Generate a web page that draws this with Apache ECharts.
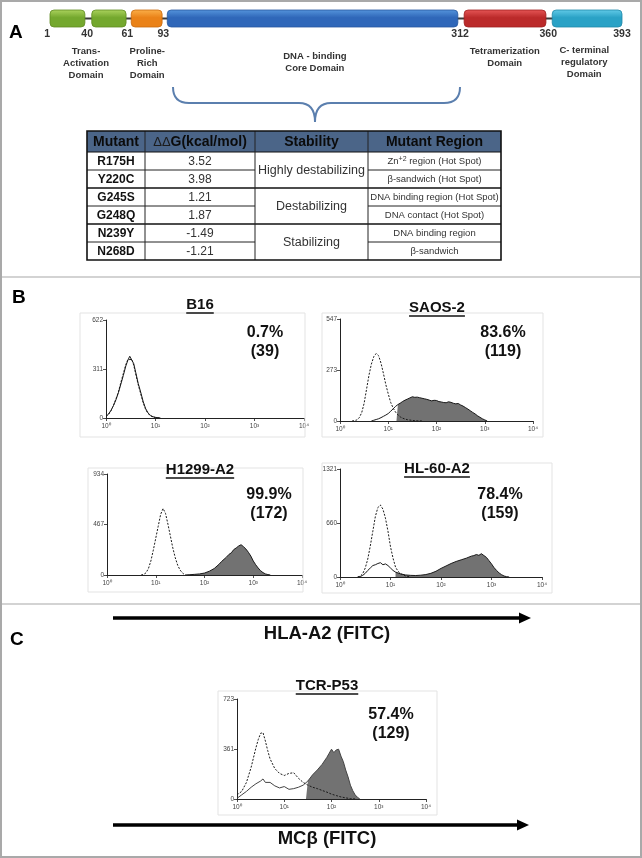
<!DOCTYPE html>
<html><head><meta charset="utf-8">
<script src="https://cdn.jsdelivr.net/npm/echarts/dist/echarts.min.js"></script>
<style>html,body{margin:0;padding:0;background:#fff}#c{width:642px;height:858px}</style>
</head><body><div id="c"></div>
<script>
// ---------------- DATA ----------------
// Panel A: p53 domain schematic (schematic units 0-100 along the bar)
const domainNames  = ['Trans-Activation I','Trans-Activation II','Proline-Rich','DNA-binding Core','Tetramerization','C-terminal regulatory'];
const domainStart  = [0, 7.3, 14.2, 20.5, 72.4, 87.8];
const domainEnd    = [6.1, 13.3, 19.6, 71.3, 86.7, 100];
const domainColorIdx = [0, 0, 1, 2, 3, 4];
const residueLabels = ['1','40','61','93','312','360','393'];
const residuePos    = [-0.5, 6.5, 13.5, 19.8, 71.7, 87.1, 100];
const domainLabelLines = [['Trans-','Activation','Domain'],['Proline-','Rich','Domain'],['DNA - binding','Core Domain'],['Tetramerization','Domain'],['C- terminal','regulatory','Domain']];
const domainLabelPos   = [6.3, 17.0, 46.3, 79.5, 93.4];

// Table
const tableHeader = ['Mutant','{d|ΔΔ}G(kcal/mol)','Stability','Mutant Region'];
const mutants     = ['R175H','Y220C','G245S','G248Q','N239Y','N268D'];
const ddG         = ['3.52','3.98','1.21','1.87','-1.49','-1.21'];
const stabilityLabels = ['Highly destabilizing','Destabilizing','Stabilizing'];
const stabilitySpan   = [2, 2, 2];
const regions = ['Zn{sup|+2} region (Hot Spot)','β-sandwich (Hot Spot)','DNA binding region (Hot Spot)','DNA contact (Hot Spot)','DNA binding region','β-sandwich'];

// Panel B/C histograms (x = log10 fluorescence, y = counts)
const histTitles = ['B16','SAOS-2','H1299-A2','HL-60-A2','TCR-P53'];
const histPct    = ['0.7%','83.6%','99.9%','78.4%','57.4%'];
const histMFI    = ['(39)','(119)','(172)','(159)','(129)'];
const histYMax   = [622, 547, 934, 1321, 723];
const histGate   = [null, 1.17, 1.6, 1.1, 1.46];
const xTickLabels = ['10⁰','10¹','10²','10³','10⁴'];

const b16CtrlX = [0,0.05,0.1,0.15,0.2,0.25,0.3,0.35,0.4,0.44,0.48,0.52,0.56,0.6,0.65,0.7,0.75,0.8,0.85,0.9,0.95,1.0,1.05,1.1];
const b16Ctrl  = [8,22,45,80,120,165,225,282,338,370,380,372,335,280,212,155,98,55,28,14,6,3,1,0];
const b16SampX = [0,0.05,0.1,0.15,0.2,0.25,0.3,0.35,0.4,0.44,0.48,0.52,0.56,0.6,0.65,0.7,0.75,0.8,0.85,0.9,0.95,1.0,1.05,1.1];
const b16Samp  = [10,25,48,78,115,160,215,270,330,365,392,380,345,290,220,165,105,60,32,16,8,4,2,0];

const saosCtrlX = [0.25,0.3,0.35,0.4,0.45,0.5,0.55,0.6,0.65,0.7,0.75,0.8,0.85,0.9,0.95,1.0,1.05,1.1,1.15,1.2,1.25,1.3,1.35,1.4,1.45,1.5,1.55,1.6,1.7];
const saosCtrl  = [0,2,6,18,45,95,170,245,305,345,362,350,310,255,195,145,100,70,48,33,22,15,10,7,5,3,2,1,0];
const saosSampX = [0.65,0.7,0.75,0.8,0.85,0.9,0.95,1.0,1.05,1.1,1.15,1.2,1.25,1.3,1.35,1.4,1.45,1.5,1.55,1.6,1.65,1.7,1.75,1.8,1.85,1.9,1.95,2.0,2.05,2.1,2.15,2.2,2.25,2.3,2.35,2.4,2.45,2.5,2.55,2.6,2.65,2.7,2.75,2.8,2.85,2.9,2.95,3.0,3.05];
const saosSamp  = [0,4,8,12,18,25,32,40,52,65,78,88,96,105,112,118,124,130,127,128,125,122,119,116,112,108,111,110,104,102,99,98,103,100,95,92,94,86,80,72,64,55,46,38,28,20,12,6,0];

const h1299CtrlX = [0.7,0.75,0.8,0.85,0.9,0.95,1.0,1.05,1.1,1.15,1.2,1.25,1.3,1.35,1.4,1.45,1.5,1.55,1.6];
const h1299Ctrl  = [0,5,20,60,130,230,340,450,560,615,570,470,360,250,160,90,45,18,0];
const h1299SampX = [1.6,1.7,1.8,1.9,2.0,2.1,2.2,2.3,2.35,2.4,2.45,2.5,2.55,2.6,2.65,2.7,2.75,2.8,2.85,2.9,2.95,3.0,3.05,3.1,3.15,3.2,3.25,3.3,3.35];
const h1299Samp  = [0,3,6,10,18,35,60,100,125,145,165,190,205,235,250,268,280,262,240,210,175,130,95,65,40,22,10,4,0];

const hl60CtrlX = [0.35,0.4,0.45,0.5,0.55,0.6,0.65,0.7,0.75,0.8,0.85,0.9,0.95,1.0,1.05,1.1,1.15,1.2,1.3,1.4];
const hl60Ctrl  = [0,10,40,110,220,380,560,740,850,880,830,720,560,370,230,120,70,40,12,0];
const hl60SampX = [0.35,0.4,0.45,0.5,0.55,0.6,0.65,0.7,0.75,0.8,0.85,0.9,0.95,1.0,1.05,1.1,1.2,1.3,1.4,1.5,1.6,1.7,1.8,1.9,2.0,2.1,2.2,2.3,2.4,2.5,2.6,2.65,2.7,2.75,2.8,2.85,2.9,2.95,3.0,3.05,3.1,3.15,3.2,3.25,3.3,3.35];
const hl60Samp  = [0,5,20,45,80,110,140,150,165,175,150,160,140,110,80,60,38,25,20,18,22,30,45,70,105,135,165,190,210,230,255,262,275,265,285,262,240,200,160,115,80,50,28,12,4,0];

const tcrCtrlX = [0,0.1,0.2,0.3,0.35,0.4,0.45,0.5,0.55,0.6,0.65,0.7,0.8,0.9,1.0,1.1,1.2,1.3,1.4,1.5,1.6,1.7,1.8,1.9,2.0,2.1,2.2,2.3,2.4,2.5];
const tcrCtrl  = [30,55,120,230,300,370,430,475,480,420,350,290,220,185,170,185,190,150,120,100,85,75,62,50,35,25,15,8,3,0];
const tcrSampX = [0,0.1,0.2,0.3,0.4,0.5,0.55,0.6,0.7,0.8,0.9,1.0,1.1,1.2,1.3,1.4,1.5,1.6,1.7,1.8,1.9,1.95,2.0,2.05,2.1,2.15,2.2,2.25,2.3,2.35,2.4,2.45,2.5,2.55,2.6];
const tcrSamp  = [5,30,55,85,110,130,145,120,120,95,80,90,70,75,85,100,130,175,210,250,300,330,360,335,355,360,310,270,210,160,100,60,30,12,0];

const histCtrlX = [b16CtrlX, saosCtrlX, h1299CtrlX, hl60CtrlX, tcrCtrlX];
const histCtrl  = [b16Ctrl, saosCtrl, h1299Ctrl, hl60Ctrl, tcrCtrl];
const histSampX = [b16SampX, saosSampX, h1299SampX, hl60SampX, tcrSampX];
const histSamp  = [b16Samp, saosSamp, h1299Samp, hl60Samp, tcrSamp];

// ---------------- LAYOUT / STYLE ----------------
const FF = '"Liberation Sans", Arial, sans-serif';
const palette = [
  ['#acd35e','#74a82e','#5f8c22'],
  ['#fbb04a','#ea8218','#c96a0c'],
  ['#5595dc','#2f67b9','#26579e'],
  ['#e65656','#bb2a2a','#9e2020'],
  ['#62cbe8','#2aa2c6','#1f88a8']
];
const grids = [
  {left:106, top:320, width:198, height:98},
  {left:340, top:319, width:193, height:102},
  {left:107, top:474, width:195, height:101},
  {left:340, top:469, width:202, height:108},
  {left:237, top:699, width:189, height:100}
];
const frames = [[80,313,225,124],[322,313,221,124],[88,468,215,124],[322,463,230,130],[218,691,219,124]];
const titlePos = [[200,305],[437,308],[200,470],[437,469],[327,686]];
const pctPos = [[265,333],[503,333],[269,495],[500,495],[391,715]];
const labelTopOffset = [18, 18, 23, 18, 17];

const mctx = document.createElement('canvas').getContext('2d');
function tw(t, font){ mctx.font = font; return mctx.measureText(t).width; }

const G = [];
function txt(x,y,text,font,fill,align,extra){
  G.push({type:'text', x:x, y:y, silent:true, z:10,
    style:Object.assign({text:text, font:font, fill:fill||'#111', align:align||'center', verticalAlign:'middle'}, extra||{})});
}
function ln(x1,y1,x2,y2,stroke,w,z){
  G.push({type:'line', silent:true, z:z||5, shape:{x1:x1,y1:y1,x2:x2,y2:y2}, style:{stroke:stroke, lineWidth:w}});
}
function rc(x,y,w,h,style,z){
  G.push({type:'rect', silent:true, z:z||1, shape:{x:x,y:y,width:w,height:h}, style:style});
}
function qc(x1,y1,cx,cy,x2,y2,stroke,w){
  G.push({type:'bezierCurve', silent:true, z:5, shape:{x1:x1,y1:y1,x2:x2,y2:y2,cpx1:cx,cpy1:cy}, style:{stroke:stroke, lineWidth:w, fill:'none'}});
}

// Outer frame and panel separators
rc(1,1,640,856,{fill:'none', stroke:'#a9a9a9', lineWidth:2}, 20);
ln(0,277,642,277,'#c4c4c4',1.5);
ln(0,604,642,604,'#c4c4c4',1.5);
// Panel letters
txt(9,33,'A','bold 19px '+FF,'#000','left');
txt(12,298,'B','bold 19px '+FF,'#000','left');
txt(10,640,'C','bold 19px '+FF,'#000','left');

// Brace
const BC = '#5b7fae';
qc(173,87,173,103,189,103,BC,2);
ln(189,103,299,103,BC,2);
qc(299,103,315,103,315,122,BC,2);
qc(315,122,315,103,331,103,BC,2);
ln(331,103,444,103,BC,2);
qc(444,103,460,103,460,87,BC,2);

// Table
const colEdges = [87,145,255,368,501];
const tTop = 131, headH = 21, rowH = 18;
const tBottom = tTop + headH + rowH*mutants.length;
rc(colEdges[0], tTop, colEdges[4]-colEdges[0], headH, {fill:'#4b6588'}, 2);
for (let c=0;c<4;c++){
  txt((colEdges[c]+colEdges[c+1])/2, tTop+headH/2+0.5, tableHeader[c], 'bold 14px '+FF, '#0b0b0b', 'center',
      {rich:{d:{font:'13px '+FF, fill:'#1b1b1b'}}});
}
for (let r=0;r<mutants.length;r++){
  const cy = tTop+headH+rowH*r+rowH/2+0.5;
  txt((colEdges[0]+colEdges[1])/2, cy, mutants[r], 'bold 12px '+FF, '#111');
  txt((colEdges[1]+colEdges[2])/2, cy, ddG[r], '12px '+FF, '#333');
  txt((colEdges[3]+colEdges[4])/2, cy, regions[r], '9.5px '+FF, '#333', 'center',
      {rich:{sup:{font:'7px '+FF, fill:'#333', verticalAlign:'top', padding:[0,0,5,0]}}});
}
let rowAcc = 0;
for (let g=0; g<stabilityLabels.length; g++){
  const y0 = tTop+headH+rowH*rowAcc, h = rowH*stabilitySpan[g];
  txt((colEdges[2]+colEdges[3])/2, y0+h/2+0.5, stabilityLabels[g], '12.5px '+FF, '#333');
  rowAcc += stabilitySpan[g];
  if (g < stabilityLabels.length-1) ln(colEdges[0], y0+h, colEdges[4], y0+h, '#111', 1.6);
}
const groupEnds = []; stabilitySpan.reduce((a,s)=>{groupEnds.push(a+s); return a+s;},0);
for (let r=1;r<mutants.length;r++){
  if (groupEnds.indexOf(r) >= 0) continue;
  const y = tTop+headH+rowH*r;
  ln(colEdges[0], y, colEdges[2], y, '#222', 1);
  ln(colEdges[3], y, colEdges[4], y, '#222', 1);
}
ln(colEdges[0], tTop+headH, colEdges[4], tTop+headH, '#111', 1.2);
for (let c=1;c<4;c++) ln(colEdges[c], tTop, colEdges[c], tBottom, '#222', 1);
rc(colEdges[0], tTop, colEdges[4]-colEdges[0], tBottom-tTop, {fill:'none', stroke:'#111', lineWidth:1.6}, 6);

// Histogram frames, titles, percentages
for (let i=0;i<5;i++){
  const f = frames[i];
  rc(f[0], f[1], f[2], f[3], {fill:'none', stroke:'#e3e3e3', lineWidth:1}, 0);
  const tf = 'bold 15px '+FF;
  const tx = titlePos[i][0], ty = titlePos[i][1];
  txt(tx, ty, histTitles[i], tf, '#111');
  const w = tw(histTitles[i], tf);
  ln(tx-w/2, ty+8, tx+w/2, ty+8, '#111', 1.5, 10);
  const px = pctPos[i][0], py = pctPos[i][1];
  txt(px, py, histPct[i], 'bold 16px '+FF, '#111');
  txt(px, py+19, histMFI[i], 'bold 16px '+FF, '#111');
}

// Arrows & axis captions
function arrow(x1, x2, y){
  ln(x1, y, x2-10, y, '#000', 3.5);
  G.push({type:'polygon', silent:true, z:5, shape:{points:[[x2-12,y-5.5],[x2,y],[x2-12,y+5.5]]}, style:{fill:'#000'}});
}
arrow(113, 531, 618);
txt(327, 634, 'HLA-A2 (FITC)', 'bold 18.5px '+FF, '#111');
arrow(113, 529, 825);
txt(327, 839, 'MCβ (FITC)', 'bold 18.5px '+FF, '#111');

// ---------------- CHART OPTION ----------------
const gridOpt = [{left:50, top:10, width:572, height:17}].concat(grids);
const xAxes = [{gridIndex:0, type:'value', min:0, max:100, show:false}];
const yAxes = [{gridIndex:0, type:'value', min:0, max:1, show:false}];
for (let i=0;i<5;i++){
  xAxes.push({gridIndex:i+1, type:'value', min:0, max:4, interval:1,
    axisLine:{show:true, onZero:false, lineStyle:{color:'#222', width:1}},
    axisTick:{show:true, length:3, lineStyle:{color:'#222', width:0.8}},
    axisLabel:{fontSize:6.5, color:'#444', margin:5, fontFamily:FF, formatter:v=>xTickLabels[Math.round(v)]},
    splitLine:{show:false}});
  yAxes.push({gridIndex:i+1, type:'value', min:0, max:histYMax[i], interval:histYMax[i]/2,
    axisLine:{show:true, lineStyle:{color:'#222', width:1}},
    axisTick:{show:true, length:3, lineStyle:{color:'#222', width:0.8}},
    axisLabel:{fontSize:6.5, color:'#444', margin:3, fontFamily:FF, formatter:v=>String(Math.floor(v))},
    splitLine:{show:false}});
}

const series = [];
series.push({type:'custom', xAxisIndex:0, yAxisIndex:0, silent:true, z:1,
  data:[[domainStart[0], domainEnd[domainEnd.length-1]]],
  renderItem:function(p, api){
    const a = api.coord([api.value(0), 0.5]), b = api.coord([api.value(1), 0.5]);
    return {type:'line', shape:{x1:a[0], y1:a[1], x2:b[0], y2:b[1]}, style:{stroke:'#3a3a3a', lineWidth:2}};
  }});
series.push({type:'custom', xAxisIndex:0, yAxisIndex:0, silent:true, z:2,
  data: domainStart.map((s,i)=>[s, domainEnd[i], domainColorIdx[i]]),
  renderItem:function(p, api){
    const a = api.coord([api.value(0), 0]), b = api.coord([api.value(1), 1]);
    const pc = palette[api.value(2)];
    return {type:'rect', shape:{x:a[0], y:b[1], width:b[0]-a[0], height:a[1]-b[1], r:4},
      style:{fill:new echarts.graphic.LinearGradient(0,0,0,1,[{offset:0,color:pc[0]},{offset:0.45,color:pc[1]},{offset:1,color:pc[1]}]),
             stroke:pc[2], lineWidth:0.8}};
  }});
series.push({type:'custom', xAxisIndex:0, yAxisIndex:0, silent:true, z:3,
  data: residuePos.map((x,i)=>[x,i]),
  renderItem:function(p, api){
    const a = api.coord([api.value(0), 0]);
    return {type:'text', x:a[0], y:a[1]+7.5, style:{text:residueLabels[api.value(1)], font:'bold 10.5px '+FF, fill:'#333', align:'center', verticalAlign:'middle'}};
  }});
series.push({type:'custom', xAxisIndex:0, yAxisIndex:0, silent:true, z:3,
  data: domainLabelPos.map((x,i)=>[x,i]),
  renderItem:function(p, api){
    const i = api.value(1);
    const a = api.coord([api.value(0), 0]);
    return {type:'text', x:a[0], y:a[1]+labelTopOffset[i], style:{text:domainLabelLines[i].join('\n'), font:'bold 9.5px '+FF, lineHeight:12, fill:'#333', align:'center', verticalAlign:'top'}};
  }});

for (let i=0;i<5;i++){
  const ax = i+1;
  const ctrl = histCtrlX[i].map((x,k)=>[x, histCtrl[i][k]]);
  const samp = histSampX[i].map((x,k)=>[x, histSamp[i][k]]);
  if (histGate[i] !== null){
    const fill = [[histGate[i], 0]].concat(samp.filter(p=>p[0] >= histGate[i]));
    series.push({type:'line', xAxisIndex:ax, yAxisIndex:ax, data:fill, symbol:'none', silent:true, z:2,
      lineStyle:{width:0}, areaStyle:{color:'#727272', opacity:1}});
  }
  series.push({type:'line', xAxisIndex:ax, yAxisIndex:ax, data:samp, symbol:'none', silent:true, z:3,
    lineStyle:{color:i===4?'#444':'#1a1a1a', width:1}});
  series.push({type:'line', xAxisIndex:ax, yAxisIndex:ax, data:ctrl, symbol:'none', silent:true, z:4,
    lineStyle:{color:'#1a1a1a', width:1, type:[2,1.5]}});
}

const chart = echarts.init(document.getElementById('c'), null, {renderer:'canvas'});
chart.setOption({
  animation:false,
  backgroundColor:'#fff',
  textStyle:{fontFamily:FF},
  grid:gridOpt,
  xAxis:xAxes,
  yAxis:yAxes,
  series:series,
  graphic:{elements:G}
});
</script></body></html>
